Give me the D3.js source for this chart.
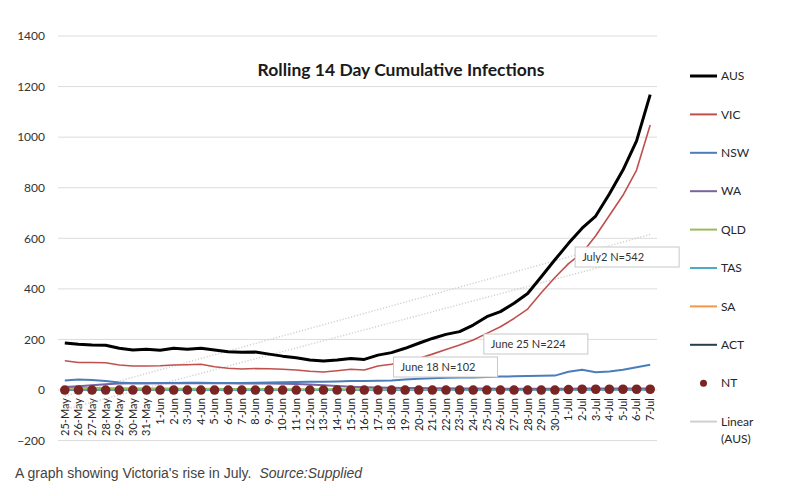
<!DOCTYPE html>
<html>
<head>
<meta charset="utf-8">
<script src="https://cdn.jsdelivr.net/npm/d3@7/dist/d3.min.js"></script>
<style>
  html, body { margin: 0; padding: 0; background: #fff; }
  svg { display: block; }
</style>
</head>
<body>
<svg id="chart" width="800" height="496"></svg>
<script>
// ---------- DATA ----------
const categories = [
  "25-May","26-May","27-May","28-May","29-May","30-May","31-May",
  "1-Jun","2-Jun","3-Jun","4-Jun","5-Jun","6-Jun","7-Jun","8-Jun","9-Jun","10-Jun",
  "11-Jun","12-Jun","13-Jun","14-Jun","15-Jun","16-Jun","17-Jun","18-Jun","19-Jun","20-Jun",
  "21-Jun","22-Jun","23-Jun","24-Jun","25-Jun","26-Jun","27-Jun","28-Jun","29-Jun","30-Jun",
  "1-Jul","2-Jul","3-Jul","4-Jul","5-Jul","6-Jul","7-Jul"
];
const yTicks = [-200, 0, 200, 400, 600, 800, 1000, 1200, 1400];

const aus = [186,181,178,177,165,158,161,157,165,161,165,158,151,149,150,142,134,128,119,115,119,125,121,138,148,165,185,204,220,231,257,290,310,343,382,448,515,580,640,688,775,870,985,1168];
const vic = [116,109,109,108,99,95,95,96,99,100,102,92,86,83,85,84,82,79,74,71,76,82,79,95,102,112,125,142,160,178,198,224,250,283,320,385,445,500,542,610,690,770,870,1048];
const nsw = [38,42,40,36,30,27,27,28,28,29,29,28,28,28,29,30,31,32,33,33,34,36,36,37,38,42,45,47,49,50,50,52,53,54,55,56,57,72,80,70,73,80,90,100];
const wa  = [12,15,19,23,26,27,27,27,27,27,27,27,27,26,26,26,25,24,22,19,16,13,11,10,9,8,8,7,7,6,6,6,5,5,5,5,5,5,6,6,6,6,6,6];
const qld = [9,9,8,8,7,7,6,6,6,5,5,5,4,4,4,4,3,3,3,3,3,3,3,3,3,3,3,3,3,3,3,3,3,3,3,3,3,3,3,3,3,3,3,3];
const tas = [1,1,1,1,1,1,1,1,0,0,0,0,0,0,0,0,0,0,0,0,0,0,0,0,0,0,0,0,0,0,0,0,0,0,0,0,0,0,0,0,0,0,0,0];
const sa  = [2,2,2,2,1,1,1,1,1,1,1,1,1,1,1,1,1,1,1,1,1,1,0,0,0,0,0,0,0,0,0,0,0,0,0,0,0,0,0,0,0,0,0,0];
const act = [0,0,0,0,0,0,0,0,0,0,0,0,0,0,0,0,0,0,0,0,0,0,0,1,1,1,1,1,1,1,1,1,1,1,1,1,1,1,1,1,1,1,1,1];
const nt  = [0,0,0,0,0,0,0,0,0,0,0,0,0,0,0,0,0,0,0,0,0,0,0,0,0,0,0,0,0,0,0,0,0,0,0,0,0,2,3,3,3,3,3,3];

const seriesNames = ["AUS","VIC","NSW","WA","QLD","TAS","SA","ACT","NT"];
const annotationTexts = ["June 18 N=102", "June 25 N=224", "July2 N=542"];
const annotationDates = ["18-Jun", "25-Jun", "2-Jul"];
const annotationValues = [102, 224, 542];

// ---------- STYLE ----------
const colors = {
  AUS: "#000000", VIC: "#c0504d", NSW: "#4a7ebb", WA: "#7b62a0",
  QLD: "#9bbb59", TAS: "#4bacc6", SA: "#f79646", ACT: "#243f50", NT: "#7a2424"
};
const widths = { AUS: 3, VIC: 1.6, NSW: 2, WA: 2, QLD: 2, TAS: 2, SA: 2, ACT: 2 };
const valuesByName = { AUS: aus, VIC: vic, NSW: nsw, WA: wa, QLD: qld, TAS: tas, SA: sa, ACT: act, NT: nt };

const svg = d3.select("#chart");
svg.append("rect").attr("width", 800).attr("height", 496).attr("fill", "#fff");

const plot = { left: 58, right: 657, top: 36, bottom: 440.6 };

const x = d3.scaleBand().domain(categories).range([plot.left, plot.right]);
const cx = c => x(c) + x.bandwidth() / 2;
const y = d3.scaleLinear().domain([-200, 1400]).range([plot.bottom, plot.top]);

const font = "Lato, 'Open Sans', sans-serif";

// gridlines
svg.append("g").selectAll("line").data(yTicks).join("line")
  .attr("x1", plot.left).attr("x2", plot.right)
  .attr("y1", d => y(d)).attr("y2", d => y(d))
  .attr("stroke", "#dcdcdc").attr("stroke-width", 1);

// y axis labels
const yAxis = svg.append("g").attr("transform", `translate(${plot.left},0)`)
  .call(d3.axisLeft(y).tickValues(yTicks).tickSize(0).tickPadding(13).tickFormat(d3.format("d")));
yAxis.select(".domain").remove();
yAxis.selectAll("text").attr("font-family", font).attr("font-size", 12).attr("fill", "#333");

// x axis labels
const xAxis = svg.append("g").attr("transform", `translate(0,${y(0)})`)
  .call(d3.axisBottom(x).tickSize(0));
xAxis.select(".domain").remove();
xAxis.selectAll("text")
  .attr("font-family", font).attr("font-size", 11).attr("fill", "#262626")
  .attr("text-anchor", "end")
  .attr("x", 0).attr("y", 0).attr("dy", "0.35em")
  .attr("transform", "translate(0,8) rotate(-90)");

// linear trend lines (least squares, as Excel draws them)
function linFit(vals) {
  const n = vals.length;
  const idx = d3.range(n);
  const mx = d3.mean(idx), my = d3.mean(vals);
  let sxy = 0, sxx = 0;
  idx.forEach(i => { sxy += (i - mx) * (vals[i] - my); sxx += (i - mx) * (i - mx); });
  const b = sxy / sxx, a = my - b * mx;
  return [a, a + b * (n - 1)];
}
[aus, vic].forEach(vals => {
  const [v0, v1] = linFit(vals);
  svg.append("line")
    .attr("x1", cx(categories[0])).attr("y1", y(v0))
    .attr("x2", cx(categories[categories.length - 1])).attr("y2", y(v1))
    .attr("stroke", "#cfcfcf").attr("stroke-width", 1.4)
    .attr("stroke-dasharray", "1.2,1.8");
});

// series lines
const line = d3.line().x((d, i) => cx(categories[i])).y(d => y(d));
["ACT","SA","TAS","QLD","WA","NSW","VIC","AUS"].forEach(name => {
  svg.append("path").datum(valuesByName[name])
    .attr("d", line).attr("fill", "none")
    .attr("stroke", colors[name]).attr("stroke-width", widths[name])
    .attr("stroke-linejoin", "round");
});

// NT markers
svg.append("g").selectAll("circle").data(nt).join("circle")
  .attr("cx", (d, i) => cx(categories[i])).attr("cy", d => y(d))
  .attr("r", 4.8).attr("fill", colors.NT);

// title
svg.append("text").attr("x", 401).attr("y", 76).attr("text-anchor", "middle")
  .attr("font-family", font).attr("font-size", 17.5).attr("font-weight", "bold")
  .attr("fill", "#1a1a1a").text("Rolling 14 Day Cumulative Infections");

// annotations
const annLayout = [ { dx: 2, top: 357 }, { dx: -3, top: 334 }, { dx: -7, top: 247 } ];
annotationTexts.forEach((t, k) => {
  const bx = cx(annotationDates[k]) + annLayout[k].dx;
  const g = svg.append("g");
  g.append("rect").attr("x", bx).attr("y", annLayout[k].top)
    .attr("width", 104).attr("height", 20)
    .attr("fill", "#fff").attr("stroke", "#c8c8c8").attr("stroke-width", 1);
  g.append("text").attr("x", bx + 7).attr("y", annLayout[k].top + 10).attr("dy", "0.35em")
    .attr("font-family", font).attr("font-size", 11).attr("fill", "#333").text(t);
});

// legend
const legendTop = 76, legendStep = 38.4;
const lg = svg.append("g");
seriesNames.forEach((name, k) => {
  const ly = legendTop + k * legendStep;
  if (name === "NT") {
    lg.append("circle").attr("cx", 703.5).attr("cy", ly).attr("r", 3.5).attr("fill", colors.NT);
  } else {
    lg.append("line").attr("x1", 690).attr("x2", 717).attr("y1", ly).attr("y2", ly)
      .attr("stroke", colors[name]).attr("stroke-width", name === "AUS" ? 3 : 2);
  }
  lg.append("text").attr("x", 721).attr("y", ly).attr("dy", "0.35em")
    .attr("font-family", font).attr("font-size", 12).attr("fill", "#262626").text(name);
});
{
  const ly = legendTop + seriesNames.length * legendStep;
  lg.append("line").attr("x1", 690).attr("x2", 717).attr("y1", ly).attr("y2", ly)
    .attr("stroke", "#d0d0d0").attr("stroke-width", 2);
  lg.append("text").attr("x", 721).attr("y", ly).attr("dy", "0.35em")
    .attr("font-family", font).attr("font-size", 12).attr("fill", "#262626").text("Linear");
  lg.append("text").attr("x", 721).attr("y", ly + 17).attr("dy", "0.35em")
    .attr("font-family", font).attr("font-size", 12).attr("fill", "#262626").text("(AUS)");
}

// caption
const cap = svg.append("text").attr("x", 15).attr("y", 478)
  .attr("font-family", "'Liberation Sans', Arial, sans-serif").attr("font-size", 14).attr("fill", "#444");
cap.append("tspan").text("A graph showing Victoria's rise in July.");
cap.append("tspan").attr("dx", 8).attr("font-style", "italic").text("Source:Supplied");
</script>
</body>
</html>
